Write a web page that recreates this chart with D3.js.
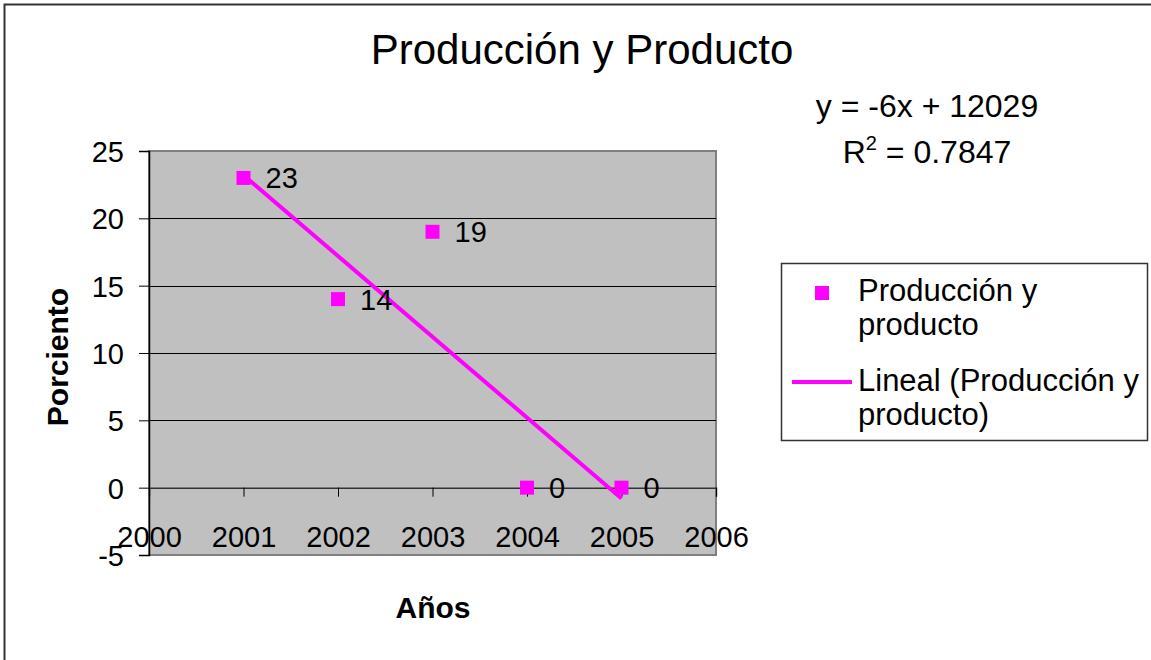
<!DOCTYPE html>
<html>
<head>
<meta charset="utf-8">
<script src="https://cdn.jsdelivr.net/npm/d3@7"></script>
<style>
  body { margin: 0; background: #fff; }
  svg { display: block; font-family: "Liberation Sans", Arial, sans-serif; }
</style>
</head>
<body>
<div id="chart"></div>
<script>
// data
const years = [2001, 2002, 2003, 2004, 2005];
const values = [23, 14, 19, 0, 0];
const yTicks = [-5, 0, 5, 10, 15, 20, 25];
const xTicks = [2000, 2001, 2002, 2003, 2004, 2005, 2006];
const legendLabels = [["Producción y", "producto"], ["Lineal (Producción y", "producto)"]];

const width = 1151, height = 660;
const plot = { left: 149, right: 716, top: 151, bottom: 555 };
const color = "#ff00ff";

const svg = d3.select("#chart").append("svg")
    .attr("width", width)
    .attr("height", height);

// outer frame
svg.append("rect")
    .attr("x", 4.5).attr("y", 4.5)
    .attr("width", width + 20).attr("height", height + 20)
    .attr("fill", "#fff")
    .attr("stroke", "#333")
    .attr("stroke-width", 2);

const x = d3.scaleLinear().domain([2000, 2006]).range([plot.left, plot.right]);
const y = d3.scaleLinear().domain([-5, 25]).range([plot.bottom, plot.top]);

// plot area
svg.append("rect")
    .attr("x", plot.left).attr("y", plot.top)
    .attr("width", plot.right - plot.left)
    .attr("height", plot.bottom - plot.top)
    .attr("fill", "#c0c0c0")
    .attr("stroke", "#808080")
    .attr("stroke-width", 2);

// gridlines
svg.append("g")
    .selectAll("line")
    .data(yTicks.filter(d => d > -5 && d < 25))
    .enter().append("line")
    .attr("x1", plot.left).attr("x2", plot.right)
    .attr("y1", d => Math.round(y(d)) + 0.5)
    .attr("y2", d => Math.round(y(d)) + 0.5)
    .attr("stroke", "#000")
    .attr("stroke-width", 1);

// y axis
const yAxis = svg.append("g")
    .attr("transform", `translate(${plot.left},0)`)
    .call(d3.axisLeft(y).tickValues(yTicks).tickFormat(d => String(d)).tickSize(10).tickPadding(15));
yAxis.select(".domain").attr("stroke", "#000").attr("stroke-width", 1.5);
yAxis.selectAll(".tick line").attr("stroke", "#000");
yAxis.selectAll("text")
    .style("font-size", "29px")
    .attr("fill", "#000")
    .attr("dy", "0.36em");

// x axis (at y = 0)
const xAxis = svg.append("g")
    .attr("transform", `translate(0,${y(0)})`)
    .call(d3.axisBottom(x).tickValues(xTicks).tickFormat(d3.format("d")).tickSize(9).tickPadding(30));
xAxis.select(".domain").attr("stroke", "#333").attr("stroke-width", 1.5);
xAxis.selectAll(".tick line").attr("stroke", "#000");
xAxis.selectAll("text")
    .style("font-size", "29px")
    .attr("fill", "#000");

// trendline (least squares)
const mx = d3.mean(years), my = d3.mean(values);
const sxy = d3.sum(years, (d, i) => (d - mx) * (values[i] - my));
const sxx = d3.sum(years, d => (d - mx) * (d - mx));
const syy = d3.sum(values, d => (d - my) * (d - my));
const slope = sxy / sxx;
const intercept = my - slope * mx;
const xr = d3.extent(years);
svg.append("line")
    .attr("x1", x(xr[0])).attr("y1", y(slope * xr[0] + intercept))
    .attr("x2", x(xr[1])).attr("y2", y(slope * xr[1] + intercept))
    .attr("stroke", color)
    .attr("stroke-width", 4);

// markers
const pts = years.map((d, i) => ({ x: d, y: values[i] }));
svg.append("g").selectAll("rect")
    .data(pts)
    .enter().append("rect")
    .attr("x", d => x(d.x) - 7)
    .attr("y", d => y(d.y) - 7)
    .attr("width", 14).attr("height", 14)
    .attr("fill", color);

// data labels
svg.append("g").selectAll("text")
    .data(pts)
    .enter().append("text")
    .attr("x", d => x(d.x) + 22)
    .attr("y", d => y(d.y))
    .attr("dy", "0.36em")
    .style("font-size", "29px")
    .text(d => d.y);

// title
svg.append("text")
    .attr("x", 582).attr("y", 64)
    .attr("text-anchor", "middle")
    .style("font-size", "42px")
    .text("Producción y Producto");

// axis titles
svg.append("text")
    .attr("x", 433).attr("y", 618)
    .attr("text-anchor", "middle")
    .style("font-size", "30px")
    .style("font-weight", "bold")
    .text("Años");

svg.append("text")
    .attr("transform", "translate(68,357) rotate(-90)")
    .attr("text-anchor", "middle")
    .style("font-size", "30px")
    .style("font-weight", "bold")
    .text("Porciento");

// regression equation
const eq = svg.append("g").style("font-size", "32px");
eq.append("text")
    .attr("x", 927).attr("y", 117)
    .attr("text-anchor", "middle")
    .text(`y = ${Math.round(slope)}x + ${Math.round(intercept)}`);
const r2 = sxy * sxy / (sxx * syy);
const r2t = eq.append("text")
    .attr("x", 927).attr("y", 163)
    .attr("text-anchor", "middle");
r2t.append("tspan").text("R");
r2t.append("tspan").attr("dy", -13).style("font-size", "20px").text("2");
r2t.append("tspan").attr("dy", 13).text(" = " + r2.toFixed(4));

// legend
const legend = svg.append("g");
legend.append("rect")
    .attr("x", 781.5).attr("y", 263.5)
    .attr("width", 366).attr("height", 177)
    .attr("fill", "#fff")
    .attr("stroke", "#333")
    .attr("stroke-width", 1.5);
legend.append("rect")
    .attr("x", 815).attr("y", 286)
    .attr("width", 14).attr("height", 14)
    .attr("fill", color);
legend.append("line")
    .attr("x1", 792).attr("x2", 852)
    .attr("y1", 382).attr("y2", 382)
    .attr("stroke", color)
    .attr("stroke-width", 4);
const legendY = [[301, 335], [391, 425]];
legendLabels.forEach((lines, i) => {
    lines.forEach((t, j) => {
        legend.append("text")
            .attr("x", 858).attr("y", legendY[i][j])
            .style("font-size", "31px")
            .text(t);
    });
});
</script>
</body>
</html>
